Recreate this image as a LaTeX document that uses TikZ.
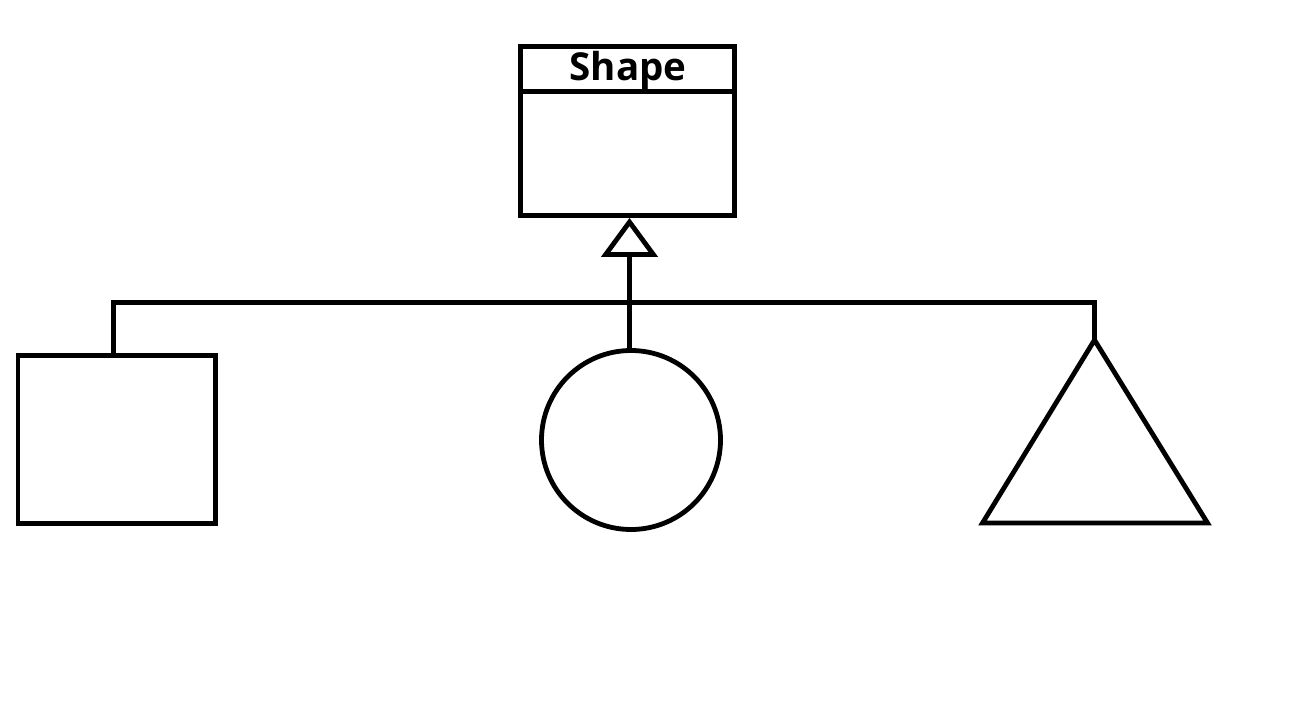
\documentclass[tikz,border=0pt]{standalone}
\usepackage{fontspec}
\setmainfont{Open Sans}
\usetikzlibrary{arrows.meta}
\begin{document}
\begin{tikzpicture}[x=1pt, y=-1pt, line width=4.8pt,
  classbox/.style={draw, rectangle, inner sep=0pt, minimum width=214pt, minimum height=169pt},
  titletext/.style={font=\bfseries\fontsize{38.5}{42}\selectfont, inner sep=0pt},
  squarebox/.style={draw, rectangle, inner sep=0pt, minimum width=197.5pt, minimum height=168pt},
  circlebox/.style={draw, circle, inner sep=0pt, minimum size=179pt},
  inherit/.style={-{Triangle[open, length=39pt, width=56pt, line width=4.8pt]}},
  link/.style={line join=miter}]
  \fill[white] (0,0) rectangle (1292,704);
  \useasboundingbox (0,0) rectangle (1292,704);

  % base class box with its title compartment
  \node[classbox] (shape) at (627.5,131) {};
  \draw ([yshift=-47.3pt]shape.north west) -- ([yshift=-47.3pt]shape.north east);
  \node[titletext] (title) at (628,70) {Shape};

  % derived shapes
  \node[squarebox] (square) at (116.75,439.5) {};
  \node[circlebox] (circle) at (631,440) {};
  \coordinate (tri) at (1094.5,340);
  \coordinate (trileft) at (982.5,523);
  \coordinate (triright) at (1207.5,523);
  \draw[line join=miter] (tri) -- (trileft) -- (triright) -- cycle;

  % inheritance tree
  \coordinate (bus) at (0,302.5);
  \draw[link] ([xshift=-3.25pt]square.north) |- (bus -| tri) -- (tri);
  \draw[inherit] ([xshift=-1.5pt]circle.north) -- ([xshift=-1.5pt]circle.north |- shape.south);
\end{tikzpicture}
\end{document}
